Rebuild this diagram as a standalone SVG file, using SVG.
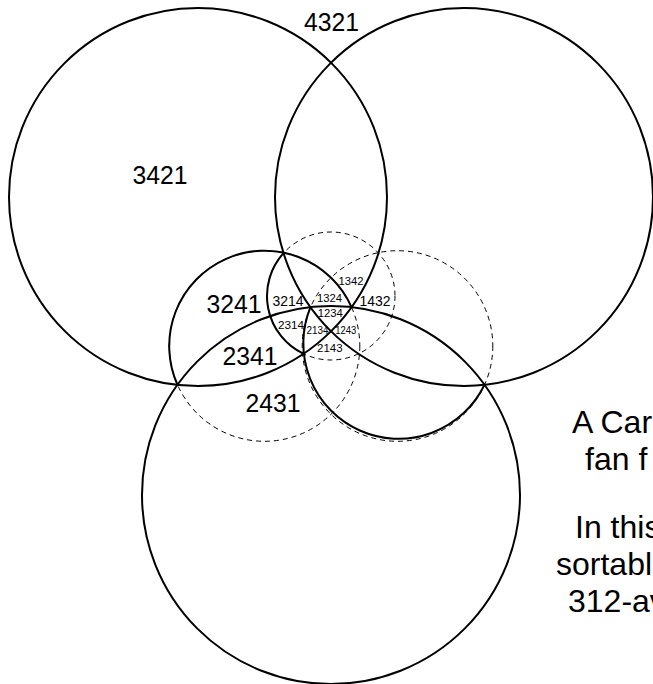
<svg xmlns="http://www.w3.org/2000/svg" width="653" height="684" viewBox="0 0 653 684">
<style>
.s{fill:none;stroke:#000;stroke-width:2}
.d{fill:none;stroke:#000;stroke-width:1;stroke-dasharray:5 4}
text{font-family:"Liberation Sans",Arial,sans-serif;fill:#000}
.b{font-size:26px;text-anchor:middle}
.m{font-size:14px;text-anchor:middle}
.sm{font-size:11.5px;text-anchor:middle}
.t{font-size:10px;text-anchor:middle}
.cap{font-size:32px}
</style>
<rect width="653" height="684" fill="#fff"/>
<g id="connectors">
  <circle class="d" cx="264.5" cy="346" r="95.3"/>
  <circle class="d" cx="397.5" cy="346" r="95.3"/>
  <circle class="d" cx="331" cy="296" r="64"/>
</g>
<g id="circle-left"><circle class="s" cx="198" cy="197" r="189"/></g>
<g id="circle-right"><circle class="s" cx="464" cy="197" r="189"/></g>
<g id="circle-bottom"><circle class="s" cx="331" cy="495" r="189"/></g>
<g id="arc-small-left"><path class="s" d="M177.5 384.9 A95.3 95.3 0 0 1 351.5 307.1"/></g>
<g id="arc-small-right"><path class="s" d="M310.5 307.2 A95.3 95.3 0 0 0 484.5 384.8"/></g>
<g id="arc-center"><path class="s" d="M302.79 353.45 A64 64 0 0 1 283.33 253.3"/></g>
<g id="labels">
  <text class="b" x="331.5" y="31" textLength="55" lengthAdjust="spacingAndGlyphs">4321</text>
  <text class="b" x="160" y="184" textLength="55" lengthAdjust="spacingAndGlyphs">3421</text>
  <text class="b" x="234" y="313" textLength="55" lengthAdjust="spacingAndGlyphs">3241</text>
  <text class="b" x="250" y="365" textLength="55" lengthAdjust="spacingAndGlyphs">2341</text>
  <text class="b" x="273" y="411.5" textLength="55" lengthAdjust="spacingAndGlyphs">2431</text>
  <text class="m" x="288" y="305.7" textLength="31" lengthAdjust="spacingAndGlyphs">3214</text>
  <text class="m" x="375" y="306" textLength="31" lengthAdjust="spacingAndGlyphs">1432</text>
  <text class="sm" x="351" y="285" textLength="25" lengthAdjust="spacingAndGlyphs">1342</text>
  <text class="sm" x="329.5" y="301.7" textLength="25" lengthAdjust="spacingAndGlyphs">1324</text>
  <text class="sm" x="330.3" y="316.7" textLength="25" lengthAdjust="spacingAndGlyphs">1234</text>
  <text class="sm" x="291" y="329.3" textLength="26" lengthAdjust="spacingAndGlyphs">2314</text>
  <text class="sm" x="329.8" y="352.3" textLength="25.5" lengthAdjust="spacingAndGlyphs">2143</text>
  <text class="t" x="317.5" y="334" textLength="22" lengthAdjust="spacingAndGlyphs">2134</text>
  <text class="t" x="345.7" y="334" textLength="21" lengthAdjust="spacingAndGlyphs">1243</text>
</g>
<g id="caption">
  <text class="cap" x="572" y="433">A Car</text>
  <text class="cap" x="585" y="470">fan f</text>
  <text class="cap" x="575" y="538">In this</text>
  <text class="cap" x="556" y="575">sortabl</text>
  <text class="cap" x="568" y="612">312-av</text>
</g>
</svg>
